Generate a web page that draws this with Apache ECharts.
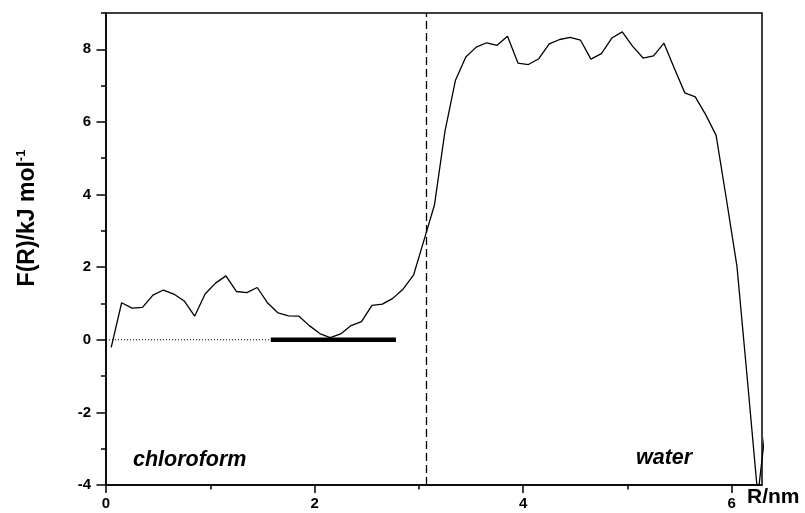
<!DOCTYPE html>
<html>
<head>
<meta charset="utf-8">
<title>F(R) profile</title>
<script src="https://cdn.jsdelivr.net/npm/echarts@6/dist/echarts.min.js"></script>
<style>
  html, body { margin: 0; padding: 0; background: #fff; }
  #chart { width: 805px; height: 513px; }
</style>
</head>
<body>
<div id="chart"></div>
<script>
// free energy profile across the chloroform / water interface
const R = [0.05, 0.15, 0.25, 0.35, 0.45, 0.55, 0.65, 0.75, 0.85, 0.95,
           1.05, 1.15, 1.25, 1.35, 1.45, 1.55, 1.65, 1.75, 1.85, 1.95,
           2.05, 2.15, 2.25, 2.35, 2.45, 2.55, 2.65, 2.75, 2.85, 2.95,
           3.05, 3.15, 3.25, 3.35, 3.45, 3.55, 3.65, 3.75, 3.85, 3.95,
           4.05, 4.15, 4.25, 4.35, 4.45, 4.55, 4.65, 4.75, 4.85, 4.95,
           5.05, 5.15, 5.25, 5.35, 5.45, 5.55, 5.65, 5.75, 5.85, 5.95,
           6.05, 6.15, 6.25, 6.35];
const F = [-0.21, 1.02, 0.87, 0.89, 1.23, 1.37, 1.26, 1.07, 0.65, 1.26,
           1.56, 1.76, 1.33, 1.30, 1.44, 1.01, 0.74, 0.66, 0.65, 0.39,
           0.17, 0.06, 0.16, 0.39, 0.50, 0.95, 0.98, 1.14, 1.40, 1.79,
           2.75, 3.72, 5.74, 7.14, 7.79, 8.06, 8.18, 8.11, 8.36, 7.62,
           7.58, 7.74, 8.15, 8.27, 8.33, 8.25, 7.73, 7.88, 8.31, 8.48,
           8.08, 7.76, 7.82, 8.17, 7.47, 6.80, 6.69, 6.20, 5.63, 3.85,
           2.02, -1.10, -4.30, -1.80];

// reference level (dotted) and the minimum region (thick bar)
const dottedR = [0, 1.58];
const dottedF = [0, 0];
const barR = [1.58, 2.78];
const barF = [0, 0];
const interfaceR = 3.07;

const xMajor = [0, 2, 4, 6];
const xMinor = [1, 3, 5];
const yMajor = [-4, -2, 0, 2, 4, 6, 8];
const yMinor = [-3, -1, 1, 3, 5, 7, 9];

const FONT = '"Liberation Sans", Arial, sans-serif';
const pairs = (xs, ys) => xs.map((x, i) => [x, ys[i]]);

const chart = echarts.init(document.getElementById('chart'));

const axisBase = (min, max) => ({
    type: 'value', min: min, max: max,
    splitLine: { show: false },
    axisLine: { show: false, onZero: false }
});

chart.setOption({
    animation: false,
    grid: {
        left: 106, top: 13, right: 43, bottom: 28,
        show: true, borderColor: '#000', borderWidth: 1.5
    },
    xAxis: [
        Object.assign(axisBase(0, 6.29), {
            position: 'bottom',
            axisLine: { show: true, onZero: false, lineStyle: { color: '#000', width: 1.5 } },
            axisTick: { customValues: xMajor, length: 8, lineStyle: { color: '#000', width: 1.5 } },
            axisLabel: { customValues: xMajor, margin: 11, color: '#000',
                         fontWeight: 'bold', fontSize: 15, fontFamily: FONT }
        }),
        Object.assign(axisBase(0, 6.29), {
            position: 'bottom',
            axisTick: { customValues: xMinor, length: 4.5, lineStyle: { color: '#000', width: 1.5 } },
            axisLabel: { show: false }
        })
    ],
    yAxis: [
        Object.assign(axisBase(-4, 9), {
            position: 'left',
            axisLine: { show: true, onZero: false, lineStyle: { color: '#000', width: 1.5 } },
            axisTick: { customValues: yMajor, length: 9.5, lineStyle: { color: '#000', width: 1.5 } },
            axisLabel: { customValues: yMajor, margin: 15, color: '#000',
                         fontWeight: 'bold', fontSize: 15, fontFamily: FONT }
        }),
        Object.assign(axisBase(-4, 9), {
            position: 'left',
            axisTick: { customValues: yMinor, length: 5, lineStyle: { color: '#000', width: 1.5 } },
            axisLabel: { show: false }
        })
    ],
    series: [
        {
            type: 'line', data: pairs(dottedR, dottedF), symbol: 'none',
            lineStyle: { color: '#000', width: 1, type: [1, 2] }
        },
        {
            type: 'line', data: pairs(barR, barF), symbol: 'none',
            lineStyle: { color: '#000', width: 4.7 }
        },
        {
            type: 'line', data: pairs(R, F), symbol: 'none', clip: true,
            lineStyle: { color: '#000', width: 1.3 },
            markLine: {
                silent: true, symbol: 'none', label: { show: false },
                lineStyle: { color: '#000', width: 1.3, type: [8, 4] },
                data: [{ xAxis: interfaceR }]
            }
        }
    ],
    graphic: [
        {
            type: 'text', x: 28, y: 218, rotation: Math.PI / 2,
            style: {
                text: '{a|F(R)/kJ mol}{s|-1}',
                align: 'center', verticalAlign: 'middle',
                fill: '#000',
                rich: {
                    a: { fontSize: 23, fontWeight: 'bold', fontFamily: FONT, lineHeight: 26 },
                    s: { fontSize: 13, fontWeight: 'bold', fontFamily: FONT, verticalAlign: 'top', lineHeight: 26 }
                }
            }
        },
        {
            type: 'text', x: 747, y: 497,
            style: { text: 'R/nm', fill: '#000', fontSize: 21, fontWeight: 'bold',
                     fontFamily: FONT, verticalAlign: 'middle' }
        },
        {
            type: 'text', x: 133, y: 460,
            style: { text: 'chloroform', fill: '#000', fontSize: 21.5, fontWeight: 'bold',
                     fontStyle: 'italic', fontFamily: FONT, verticalAlign: 'middle' }
        },
        {
            type: 'text', x: 636, y: 458,
            style: { text: 'water', fill: '#000', fontSize: 21.5, fontWeight: 'bold',
                     fontStyle: 'italic', fontFamily: FONT, verticalAlign: 'middle' }
        }
    ]
});
</script>
</body>
</html>
